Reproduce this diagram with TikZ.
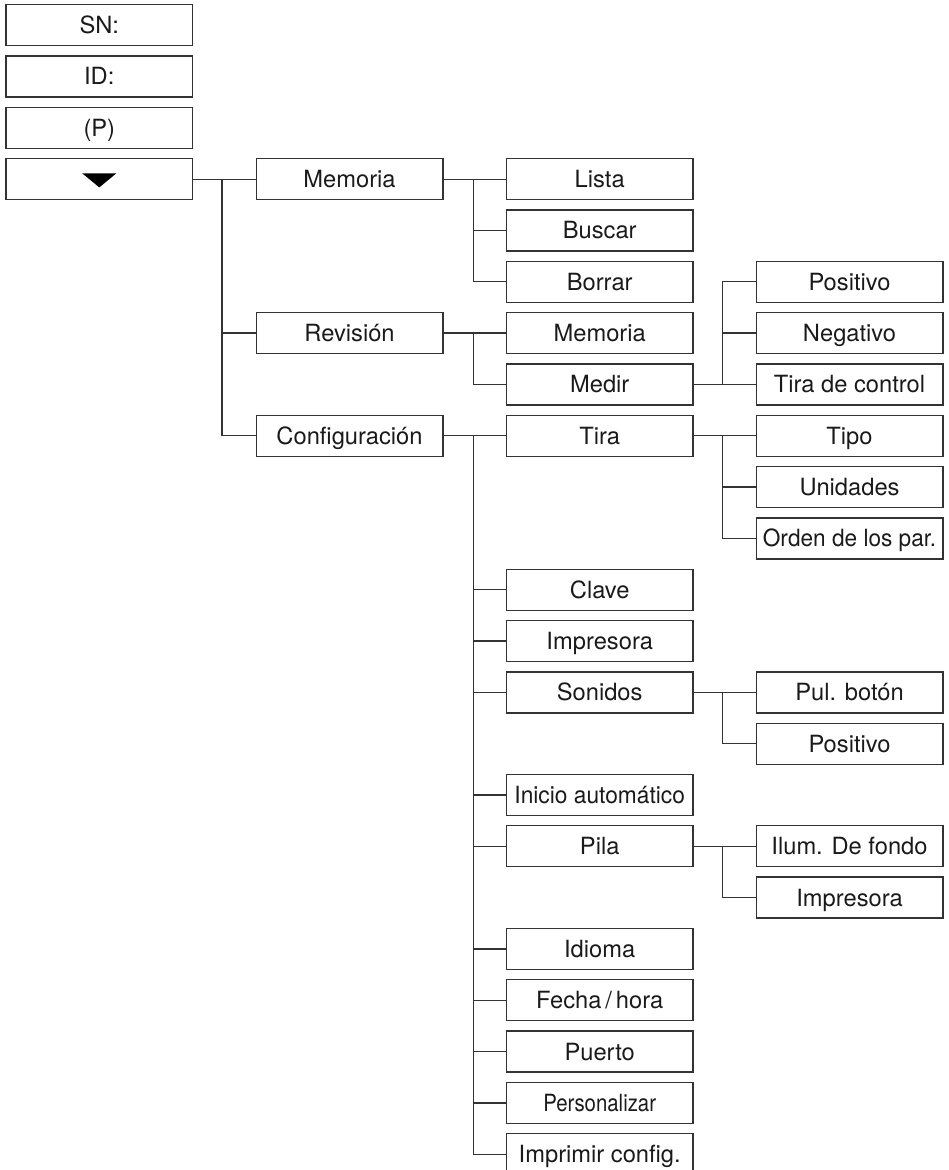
\documentclass[tikz,border=0pt]{standalone}
\usepackage{fontspec}
\setmainfont{TeX Gyre Heros}
\usepackage{graphicx}
\definecolor{linec}{HTML}{333333}
\definecolor{textc}{HTML}{1A1A1A}
\tikzset{
  mbox/.style={draw=linec, line width=0.65pt, rectangle, minimum width=93.35pt,
    minimum height=20.5pt, inner sep=0pt, text height=8.5pt, text depth=0pt,
    font=\fontsize{11.85}{14}\selectfont, text=textc},
  conn/.style={draw=linec, line width=0.65pt}
}
\begin{document}
\begin{tikzpicture}[x=0.5pt, y=-0.5pt]
\useasboundingbox (0,0) rectangle (948,1170);
\clip (0,0) rectangle (948,1170);
% column 0
\node[mbox] (sn)  at (99.3,25.2)  {SN:};
\node[mbox] (id)  at (99.3,76.5)  {ID:};
\node[mbox] (p)   at (99.3,127.8) {(P)};
\node[mbox] (tri) at (99.3,179.2) {};
\fill[black] (tri.center) ++(-8.5pt,2.9pt) -- ++(17pt,0) -- ++(-8.5pt,-7pt) -- cycle;
% column 1
\node[mbox] (mem) at (349.5,179.2) {Memoria};
\node[mbox] (rev) at (349.5,333.1) {Revisión};
\node[mbox] (cfg) at (349.5,435.8) {Configuración};
% column 2
\node[mbox] (lista)  at (599.7,179.2) {Lista};
\node[mbox] (buscar) at (599.7,230.5) {Buscar};
\node[mbox] (borrar) at (599.7,281.8) {Borrar};
\node[mbox] (mem2)   at (599.7,333.1) {Memoria};
\node[mbox] (medir)  at (599.7,384.4) {Medir};
\node[mbox] (tira)   at (599.7,435.8) {Tira};
\node[mbox] (clave)  at (599.7,589.7) {Clave};
\node[mbox] (impr)   at (599.7,641.0) {Impresora};
\node[mbox] (son)    at (599.7,692.4) {Sonidos};
\node[mbox] (ini)    at (599.7,795.0) {\scalebox{0.96}[1]{Inicio automático}};
\node[mbox] (pila)   at (599.7,846.3) {Pila};
\node[mbox] (idioma) at (599.7,948.9) {Idioma};
\node[mbox] (fecha)  at (599.7,1000.2) {Fecha\,/\,hora};
\node[mbox] (puerto) at (599.7,1051.6) {Puerto};
\node[mbox] (pers)   at (599.7,1102.9) {\scalebox{0.86}[1]{Personalizar}};
\node[mbox] (imprc)  at (599.7,1154.2) {Imprimir config.};
% column 3
\node[mbox] (pos1)  at (849.5,281.8) {Positivo};
\node[mbox] (neg)   at (849.5,333.1) {Negativo};
\node[mbox] (tctl)  at (849.5,384.4) {Tira de control};
\node[mbox] (tipo)  at (849.5,435.8) {Tipo};
\node[mbox] (unid)  at (849.5,487.1) {Unidades};
\node[mbox] (orden) at (849.5,538.4) {\scalebox{0.955}[1]{Orden de los par.}};
\node[mbox] (pul)   at (849.5,692.4) {Pul. botón};
\node[mbox] (pos2)  at (849.5,743.7) {Positivo};
\node[mbox] (ilum)  at (849.5,846.3) {Ilum. De fondo};
\node[mbox] (impr2) at (849.5,897.6) {Impresora};
% junctions
\coordinate (j0) at (222,179.2);
\coordinate (jmem) at (473.3,179.2);
\coordinate (jrev) at (473.3,333.1);
\coordinate (jcfg) at (473.3,435.8);
\coordinate (jmed) at (722.5,384.4);
\coordinate (jtira) at (722.5,435.8);
\coordinate (json) at (722.5,692.4);
\coordinate (jpila) at (722.5,846.3);
% connectors
\draw[conn] (tri.east) -- (mem.west);
\draw[conn] (j0) |- (rev.west);
\draw[conn] (j0) |- (cfg.west);
\draw[conn] (mem.east) -- (lista.west);
\draw[conn] (jmem) |- (buscar.west);
\draw[conn] (jmem) |- (borrar.west);
\draw[conn] (rev.east) -- (mem2.west);
\draw[conn] (jrev) |- (medir.west);
\draw[conn] (medir.east) -- (tctl.west);
\draw[conn] (jmed) |- (neg.west);
\draw[conn] (jmed) |- (pos1.west);
\draw[conn] (cfg.east) -- (tira.west);
\foreach \n in {clave,impr,son,ini,pila,idioma,fecha,puerto,pers,imprc}
  \draw[conn] (jcfg) |- (\n.west);
\draw[conn] (tira.east) -- (tipo.west);
\draw[conn] (jtira) |- (unid.west);
\draw[conn] (jtira) |- (orden.west);
\draw[conn] (son.east) -- (pul.west);
\draw[conn] (json) |- (pos2.west);
\draw[conn] (pila.east) -- (ilum.west);
\draw[conn] (jpila) |- (impr2.west);
\end{tikzpicture}
\end{document}
